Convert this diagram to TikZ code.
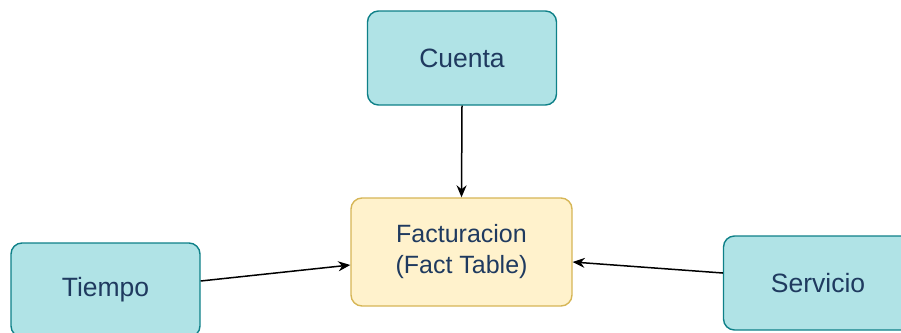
\documentclass[tikz,border=0pt]{standalone}
\usepackage{fontspec}
\setmainfont{Liberation Sans}
\usetikzlibrary{arrows.meta}
\definecolor{tealfill}{HTML}{B0E3E6}
\definecolor{tealdraw}{HTML}{0E8088}
\definecolor{yelfill}{HTML}{FFF2CC}
\definecolor{yeldraw}{HTML}{D6B656}
\definecolor{txt}{HTML}{1F3A5F}
\begin{document}
\begin{tikzpicture}[x=1pt,y=-1pt,
  dimbox/.style={draw=tealdraw,fill=tealfill,line width=1.4pt,rounded corners=11pt,
    minimum width=189pt,minimum height=94pt,text=txt,font=\fontsize{26.5}{31}\selectfont,inner sep=0pt},
  factbox/.style={draw=yeldraw,fill=yelfill,line width=1.4pt,rounded corners=11pt,
    minimum width=221pt,minimum height=108pt,text=txt,font=\fontsize{25}{31}\selectfont,align=center,inner sep=0pt},
  conn/.style={line width=1.5pt,-{Stealth[length=12pt,width=10pt]}}]
\useasboundingbox (0,0) rectangle (901,332);
\clip (0,0) rectangle (901,332);
\node[dimbox] (cuenta) at (462,58) {Cuenta};
\node[factbox] (fact) at (461.5,252) {Facturacion\\(Fact Table)};
\node[dimbox] (tiempo) at (105.5,290) {Tiempo};
\node[dimbox] (servicio) at (818,283) {Servicio};
\draw[conn] (cuenta.south) -- (fact.north);
\draw[conn] (tiempo.east |- 0,281) -- (fact.west |- 0,265);
\draw[conn] (servicio.west |- 0,273) -- (fact.east |- 0,262);
\end{tikzpicture}
\end{document}
